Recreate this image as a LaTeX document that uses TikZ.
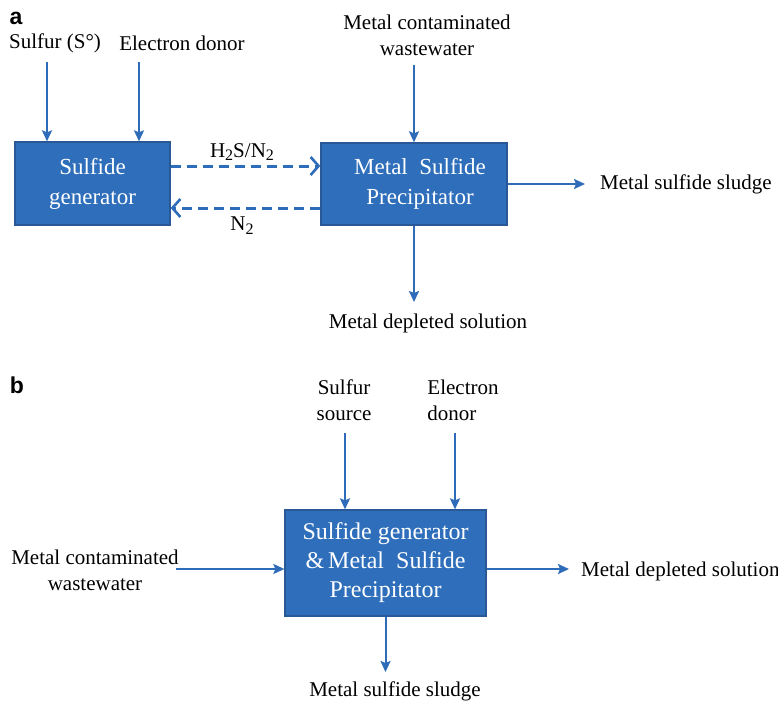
\documentclass[tikz,border=0pt]{standalone}
\usepackage{fontspec}
\setmainfont{Liberation Serif}
\newfontfamily\labfont{Liberation Sans}
\usetikzlibrary{arrows.meta}
\definecolor{boxblue}{RGB}{46,110,186}
\definecolor{boxedge}{RGB}{40,88,150}
\definecolor{arrblue}{RGB}{46,108,186}
\newcommand\mysub[1]{\raisebox{-0.4ex}{\fontsize{16}{16}\selectfont #1}}
\tikzset{
  txt/.style={inner sep=0pt, font=\fontsize{21}{26}\selectfont, text=black},
  boxtxt/.style={font=\fontsize{23}{30}\selectfont},
  proc/.style={rectangle, fill=boxblue, draw=boxedge, line width=1.3pt, text=white, align=center, inner sep=0pt},
  arr/.style={draw=arrblue, line width=2pt, -{Stealth[length=11pt,width=10pt,inset=2pt]}},
  darr/.style={draw=arrblue, line width=3pt, dash pattern=on 10pt off 6pt, -{Straight Barb[length=8pt,width=18pt,line width=2.6pt]}},
  panel/.style={inner sep=0pt, font=\labfont\bfseries\fontsize{23}{26}\selectfont}
}
\begin{document}
\begin{tikzpicture}[x=1pt,y=-1pt]
\useasboundingbox (0,0) rectangle (778,701);
% ---------- panel a ----------
\node[panel] (la) at (16,18) {a};
\node[txt] (sul) at (55,43) {Sulfur (S°)};
\node[txt] (edon) at (182,43) {Electron donor};
\node[txt, align=center] (mcw) at (427,35) {Metal contaminated\\wastewater};
\node[proc, boxtxt, minimum width=155pt, minimum height=83pt] (gen) at (92.5,183.5) {Sulfide\\generator};
\node[proc, boxtxt, minimum width=186pt, minimum height=82pt] (prec) at (414,184) {\hspace*{12pt}Metal\ \ Sulfide\\\hspace*{12pt}Precipitator};
\node[txt, anchor=west] (sludge) at (600,184) {Metal sulfide sludge};
\node[txt] (mds) at (428,323) {Metal depleted solution};
\node[txt] (h2s) at (242,152) {H\mysub{2}S/N\mysub{2}};
\node[txt] (n2) at (242,226) {N\mysub{2}};
\coordinate (sA) at (47,62);
\coordinate (eA) at (139,62);
\coordinate (wA) at (414,65);
\coordinate (sB) at (585,184);
\coordinate (dB) at (414,302);
\draw[arr] (sA) -- (sA |- gen.north);
\draw[arr] (eA) -- (eA |- gen.north);
\draw[arr] (wA) -- (wA |- prec.north);
\draw[arr] (prec.east |- sB) -- (sB);
\draw[arr] (prec.south) -- (dB);
\draw[darr] (gen.east |- 0,166) -- (prec.west |- 0,166);
\draw[darr] (prec.west |- 0,208) -- (gen.east |- 0,208);
% ---------- panel b ----------
\node[panel] (lb) at (17,385) {b};
\node[txt, align=center] (ssrc) at (344,400) {Sulfur\\source};
\node[txt, align=left] (edb) at (463,400) {Electron\\donor};
\node[proc, font=\fontsize{24}{29}\selectfont, minimum width=201pt, minimum height=106pt] (comb) at (385.5,563) {Sulfide generator\\\&\,Metal\ \ Sulfide\\Precipitator};
\node[txt, align=center] (mcwb) at (95,570) {Metal contaminated\\wastewater};
\node[txt, anchor=west] (mdsb) at (581,571) {Metal depleted solution};
\node[txt] (mssb) at (395,691) {Metal sulfide sludge};
\coordinate (sC) at (345,433);
\coordinate (eC) at (455,433);
\coordinate (wC) at (176,569);
\coordinate (oC) at (569,569);
\coordinate (dC) at (385.5,672);
\draw[arr] (sC) -- (sC |- comb.north);
\draw[arr] (eC) -- (eC |- comb.north);
\draw[arr] (wC) -- (wC -| comb.west);
\draw[arr] (oC -| comb.east) -- (oC);
\draw[arr] (comb.south) -- (dC);
\end{tikzpicture}
\end{document}
